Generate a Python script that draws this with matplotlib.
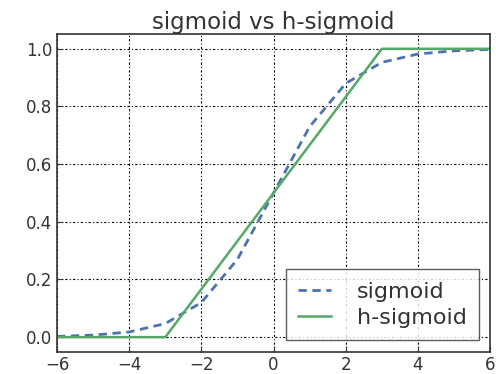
import numpy as np
from matplotlib import pyplot as plt

# values
x_sig = [-6, -5, -4, -3, -2, -1, 0, 1, 2, 3, 4, 5, 6]
y_sig = [0.0025, 0.007, 0.018, 0.047, 0.12, 0.27, 0.5, 0.73, 0.88, 0.953, 0.982, 0.993, 0.998]
x_hsig = [-6, -3, 3, 6]
y_hsig = [0.0, 0.0, 1.0, 1.0]

plt.rcParams['font.family'] = 'DejaVu Sans'
fig, ax = plt.subplots(figsize=(4.96, 3.74), dpi=100)
fig.subplots_adjust(left=0.115, right=0.988, top=0.908, bottom=0.06)

ax.plot(x_sig, y_sig, '--', color='#4C72B0', lw=2, dashes=(3, 2), label='sigmoid')
ax.plot(x_hsig, y_hsig, '-', color='#55A868', lw=1.8, label='h-sigmoid')

ax.set_xlim(-6, 6)
ax.set_ylim(-0.05, 1.05)
ax.set_xticks([-6, -4, -2, 0, 2, 4, 6])
ax.set_yticks([0.0, 0.2, 0.4, 0.6, 0.8, 1.0])
ax.grid(True, color='black', linestyle='-.', linewidth=0.8, dashes=(2, 2, 1, 2))
ax.tick_params(direction='in', labelsize=12, colors='#333333', length=4)
for s in ax.spines.values():
    s.set_color('#333333')
    s.set_linewidth(1.2)
ax.set_title('sigmoid vs h-sigmoid', fontsize=16.5, color='#333333', pad=4)
leg = ax.legend(loc='lower right', fontsize=16, fancybox=False, edgecolor='#333333',
                handlelength=1.5, borderpad=0.55, labelspacing=0.3, handletextpad=1.15,
                borderaxespad=0.5)
for t in leg.get_texts():
    t.set_color('#333333')
leg.get_frame().set_linewidth(1.0)

plt.savefig('out.png', dpi=100)
